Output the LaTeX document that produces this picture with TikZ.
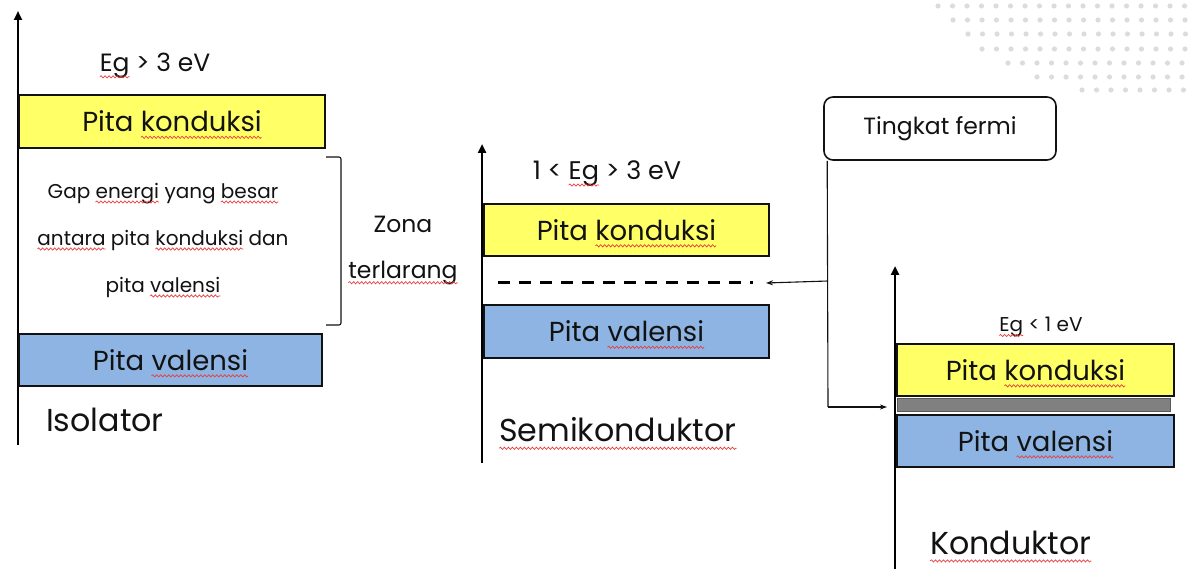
\documentclass[tikz,border=0pt]{standalone}
\usepackage{fontspec}
\setmainfont{Poppins}
\usetikzlibrary{arrows.meta,decorations.pathmorphing}
\definecolor{bandY}{RGB}{255,255,102}
\definecolor{bandB}{RGB}{141,180,226}
\definecolor{ink}{RGB}{18,18,18}
\definecolor{dotc}{RGB}{220,220,220}
\definecolor{sqred}{RGB}{235,60,60}
\newdimen\sqw
\newsavebox\sqbox
\newcommand\sq[1]{\sbox\sqbox{#1}\sqw=\wd\sqbox\leavevmode\usebox\sqbox\llap{\smash{\tikz[baseline=0pt]{\path[use as bounding box] (0pt,0pt) rectangle (\the\sqw,0pt);\draw[sqred, fill=none, line width=0.7pt, decorate, decoration={snake, amplitude=1.1pt, segment length=4pt}] (0pt,-0.2em) -- (\the\sqw,-0.2em);}}}}
\tikzset{
  axisline/.style={line width=2.6pt, draw=black, -{Triangle[length=9pt,width=8pt]}},
  bandbox/.style={draw=ink, line width=1.6pt, inner sep=0pt, outer sep=0pt, text=ink},
  ybox/.style={bandbox, fill=bandY},
  bbox/.style={bandbox, fill=bandB},
  lbl/.style={text=ink, inner sep=0pt},
  bandfont/.style={font=\fontsize{27.5}{30}\selectfont},
  titlefont/.style={font=\fontsize{31.7}{34}\selectfont},
  conn/.style={line width=1.1pt, draw=ink},
  connarr/.style={conn, -{Stealth[length=7pt,width=5pt]}},
}
\begin{document}
\begin{tikzpicture}[x=1pt,y=-1pt]
\useasboundingbox (0,0) rectangle (1194,569);
% decorative dots
\foreach \yy/\xs in {6/938,20/953,34/968,49/982,63/1008,77/1037,90/1082}{
  \foreach \k in {0,...,18}{
    \pgfmathsetmacro\xx{\xs+14.5*\k}
    \ifdim\xx pt<1192pt \fill[dotc] (\xx,\yy) circle (2.6pt);\fi
  }
}
% ---------------- Isolator
\coordinate (ia0) at (18,445);
\coordinate (ia1) at (18,11);
\draw[axisline] (ia0) -- (ia1);
\node[lbl, font=\fontsize{25}{27}\selectfont] (ieg) at (155,66) {\sq{Eg} > 3 eV};
\node[ybox, bandfont, minimum width=306pt, minimum height=53pt] (ic) at (172,121.5) {Pita \sq{konduksi}};
\node[bbox, bandfont, minimum width=303pt, minimum height=52pt] (iv) at (170.5,360) {Pita \sq{valensi}};
\node[lbl, align=center, font=\fontsize{20}{47}\selectfont] (igap) at (163,240) {Gap \sq{energi} yang \sq{besar}\\\sq{antara} pita \sq{konduksi} dan\\pita \sq{valensi}};
\coordinate (br1) at (326,157);
\coordinate (br2) at (341,157);
\coordinate (br3) at (341,325);
\coordinate (br4) at (326,325);
\draw[ink, line width=1.1pt, rounded corners=2pt] (br1) -- (br2) -- (br3) -- (br4);
\node[lbl, align=center, font=\fontsize{23.5}{46}\selectfont] (zona) at (403,250) {Zona\\\sq{terlarang}};
\node[lbl, anchor=west, titlefont] (iso) at (46,420) {Isolator};
% ---------------- Semikonduktor
\coordinate (sa0) at (482,463);
\coordinate (sa1) at (482,144);
\draw[axisline] (sa0) -- (sa1);
\node[lbl, font=\fontsize{25.5}{27}\selectfont] (seg) at (607,174) {1 < \sq{Eg} > 3 eV};
\node[ybox, bandfont, minimum width=285pt, minimum height=52pt] (sc) at (626.5,230) {Pita \sq{konduksi}};
\coordinate (sd1) at (498,283);
\coordinate (sd2) at (753,283);
\draw[black, line width=3pt, dash pattern=on 12pt off 9pt] (sd1) -- (sd2);
\node[bbox, bandfont, minimum width=285pt, minimum height=53pt] (sv) at (626.5,331.5) {Pita \sq{valensi}};
\node[lbl, anchor=west, titlefont] (semi) at (499,430) {\sq{Semikonduktor}};
% ---------------- Tingkat fermi
\node[draw=ink, line width=1.6pt, rounded corners=9pt, minimum width=232pt, minimum height=63pt, text=ink, font=\fontsize{23.5}{25}\selectfont] (tf) at (940,128.5) {Tingkat fermi};
\coordinate (fk) at (828,281);
\coordinate (fc) at (828,407);
\draw[conn] ([xshift=4pt]tf.south west) -- (fc);
\draw[connarr] (fk) -- ([xshift=13pt]sd2);
% ---------------- Konduktor
\coordinate (ka0) at (895,569);
\coordinate (ka1) at (895,266);
\draw[axisline] (ka0) -- (ka1);
\node[lbl, font=\fontsize{20}{22}\selectfont] (keg) at (1041,327) {\sq{Eg} < 1 eV};
\node[ybox, bandfont, minimum width=277pt, minimum height=52pt] (kc) at (1035.5,370) {Pita \sq{konduksi}};
\node[draw=ink!70, fill=black!50, line width=1pt, inner sep=0pt, outer sep=0pt, minimum width=273pt, minimum height=13pt] (kg) at (1033.5,404.5) {};
\node[bbox, bandfont, minimum width=277pt, minimum height=52pt] (kv) at (1035.5,441) {Pita \sq{valensi}};
\node[lbl, anchor=west, titlefont] (kond) at (930,543) {\sq{Konduktor}};
\draw[connarr] (fc) -- ([xshift=-10pt]kg.west |- fc);
\end{tikzpicture}
\end{document}
